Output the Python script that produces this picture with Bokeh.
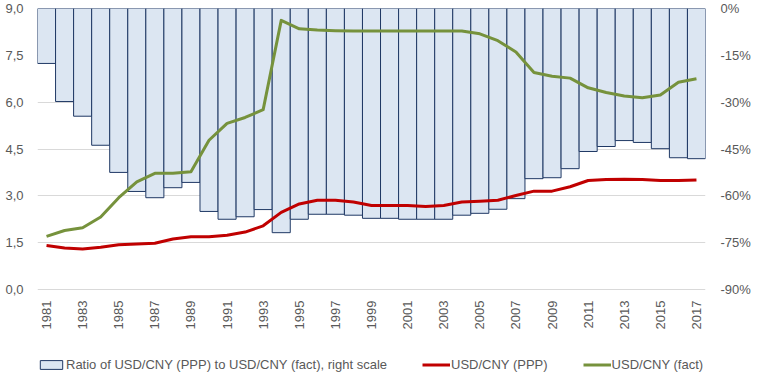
import math
from bokeh.plotting import figure
from bokeh.core.properties import value
from bokeh.models import (Range1d, LinearAxis, FixedTicker, CustomJSTickFormatter,
                          Legend, LegendItem, ColumnDataSource)
from bokeh.embed import file_html
from bokeh.resources import INLINE

years = list(range(1981, 2018))
ratio_pct = [-17.6, -29.8, -34.5, -43.8, -52.5, -58.6, -60.6, -57.4, -55.7, -65.0,
             -67.5, -66.7, -64.4, -71.8, -67.5, -65.9, -65.9, -66.2, -67.2, -67.2,
             -67.5, -67.5, -67.5, -66.2, -65.6, -64.3, -60.9, -54.5, -54.2, -51.3,
             -45.8, -44.2, -42.3, -42.9, -44.9, -47.8, -48.1]
usd_cny_ppp = [1.41, 1.33, 1.30, 1.35, 1.43, 1.46, 1.48, 1.62, 1.69, 1.69,
               1.74, 1.84, 2.04, 2.47, 2.74, 2.86, 2.86, 2.80, 2.69, 2.69,
               2.69, 2.66, 2.69, 2.80, 2.83, 2.86, 3.01, 3.15, 3.15, 3.29,
               3.49, 3.52, 3.53, 3.52, 3.49, 3.49, 3.51]
usd_cny_fact = [1.70, 1.89, 1.98, 2.32, 2.94, 3.45, 3.72, 3.72, 3.77, 4.78,
                5.32, 5.51, 5.76, 8.62, 8.35, 8.31, 8.29, 8.28, 8.28, 8.28,
                8.28, 8.28, 8.28, 8.28, 8.19, 7.97, 7.61, 6.95, 6.83, 6.77,
                6.46, 6.31, 6.20, 6.14, 6.23, 6.64, 6.75]
left_ticks = [0, 1.5, 3.0, 4.5, 6.0, 7.5, 9.0]
right_ticks = [-90, -75, -60, -45, -30, -15, 0]
year_ticks = years[::2]
year_labels = [str(y) for y in year_ticks]
labels = ["Ratio of USD/CNY (PPP) to USD/CNY (fact), right scale", "USD/CNY (PPP)", "USD/CNY (fact)"]

FONT = "Liberation Sans"
TXT = "#595959"
BAR_FILL = "#DCE6F2"
BAR_LINE = "#1F3864"
RED = "#C00000"
GREEN = "#76923C"

# layout geometry (pixels)
W, H = 755, 374
B_LEFT, B_RIGHT, B_TOP = 37, 50, 8
DATA_PX = 281                      # height of the 0..9 data band
frame_h = H - B_TOP                # frame runs down to the bottom edge (room for labels + legend)
ext = frame_h / DATA_PX
left_max, right_min = 9.0, -90.0
y_start_left = left_max - left_max * ext
y_start_right = right_min * ext

src = ColumnDataSource(dict(year=years, ratio=ratio_pct, ppp=usd_cny_ppp, fact=usd_cny_fact,
                            zero=[0] * len(years)))
ysrc = ColumnDataSource(dict(x=year_ticks, y=[0] * len(year_ticks), t=year_labels))

p = figure(width=W, height=H, output_backend="svg", toolbar_location=None,
           x_range=Range1d(years[0] - 0.5, years[-1] + 0.5),
           y_range=Range1d(y_start_left, left_max),
           min_border_left=B_LEFT, min_border_right=B_RIGHT, min_border_top=B_TOP,
           min_border_bottom=0)
p.extra_y_ranges = {"pct": Range1d(y_start_right, 0)}
p.outline_line_color = None
p.xaxis.visible = False

bars = p.vbar(x="year", top="zero", bottom="ratio", width=1.0, source=src, y_range_name="pct",
              fill_color=BAR_FILL, line_color=BAR_LINE, line_width=1)
l1 = p.line("year", "ppp", source=src, line_color=RED, line_width=3, line_join="round")
l2 = p.line("year", "fact", source=src, line_color=GREEN, line_width=3, line_join="round")

# year labels under the zero line, rotated like the category axis
p.text(x="x", y="y", text="t", source=ysrc, angle=math.pi / 2, y_offset=11,
       text_align="right", text_baseline="middle", text_font=value(FONT),
       text_font_size="13px", text_color=TXT)

p.yaxis.ticker = FixedTicker(ticks=left_ticks)
p.yaxis.formatter = CustomJSTickFormatter(code="return tick.toFixed(1).replace('.', ',');")

ra = LinearAxis(y_range_name="pct", ticker=FixedTicker(ticks=right_ticks),
                formatter=CustomJSTickFormatter(code="return Math.round(tick) + '%';"))
p.add_layout(ra, "right")

for ax in [p.yaxis[0], ra]:
    ax.axis_line_color = None
    ax.major_tick_line_color = None
    ax.minor_tick_line_color = None
    ax.major_tick_out = 0
    ax.major_tick_in = 0
    ax.major_label_text_font = FONT
    ax.major_label_text_font_size = "13px"
    ax.major_label_text_color = TXT
p.yaxis[0].major_label_standoff = 14
ra.major_label_standoff = 15

p.xgrid.grid_line_color = None
p.ygrid.grid_line_color = "#D9D9D9"
p.ygrid.grid_line_width = 1

legend = Legend(items=[
    LegendItem(label=labels[0], renderers=[bars]),
    LegendItem(label=labels[1], renderers=[l1]),
    LegendItem(label=labels[2], renderers=[l2]),
], orientation="horizontal", location=(0, 2))
legend.border_line_color = None
legend.background_fill_alpha = 0
legend.padding = 0
legend.margin = 0
legend.spacing = 35
legend.glyph_width = 28
legend.glyph_height = 11
legend.label_height = 11
legend.label_standoff = 1
legend.label_text_font = FONT
legend.label_text_font_size = "13px"
legend.label_text_color = TXT
p.add_layout(legend)

open("out.html", "w").write(file_html(p, INLINE))
